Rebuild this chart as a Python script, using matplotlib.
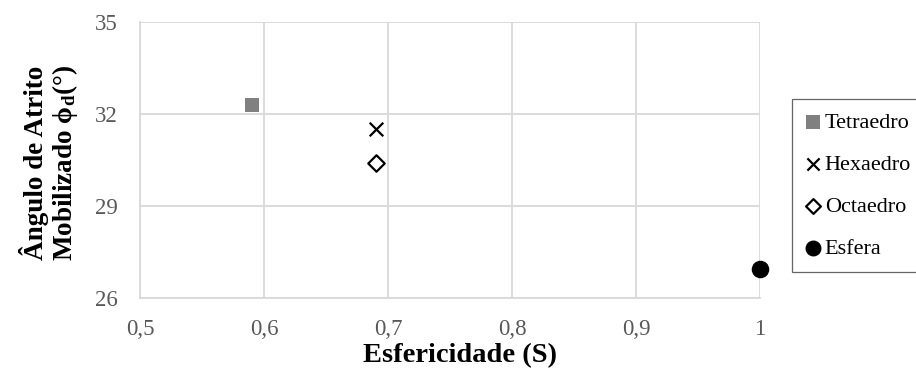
import matplotlib
matplotlib.use("Agg")
import matplotlib.pyplot as plt

plt.rcParams['font.family'] = ['Liberation Serif', 'DejaVu Serif']
plt.rcParams['mathtext.fontset'] = 'custom'
plt.rcParams['mathtext.rm'] = 'Liberation Serif'
plt.rcParams['mathtext.bf'] = 'Liberation Serif:bold'
plt.rcParams['mathtext.it'] = 'Liberation Serif:italic'

# Sphericity and mobilized friction angle per particle shape
shapes = ["Tetraedro", "Hexaedro", "Octaedro", "Esfera"]
esfericidade = [0.59, 0.69, 0.69, 1.0]
angulo = [32.3, 31.5, 30.4, 26.95]

x_ticks = [0.5, 0.6, 0.7, 0.8, 0.9, 1.0]
x_tick_labels = ["0,5", "0,6", "0,7", "0,8", "0,9", "1"]
y_ticks = [26, 29, 32, 35]

styles = {
    "Tetraedro": dict(marker="s", s=115, c="#808080", edgecolors="#808080", linewidths=0),
    "Hexaedro": dict(marker="x", s=95, c="black", linewidths=1.6),
    "Octaedro": dict(marker="D", s=70, facecolors="white", edgecolors="black", linewidths=1.6),
    "Esfera": dict(marker="o", s=135, c="black", edgecolors="black"),
}

fig = plt.figure(figsize=(9.16, 3.69), dpi=100)
ax = fig.add_axes([0.1528, 0.1924, 0.6769, 0.748])

for name, xv, yv in zip(shapes, esfericidade, angulo):
    ax.scatter([xv], [yv], label=name, zorder=3, clip_on=False, **styles[name])

ax.set_xlim(0.5, 1.0)
ax.set_ylim(26, 35)
ax.set_xticks(x_ticks)
ax.set_xticklabels(x_tick_labels)
ax.set_yticks(y_ticks)
ax.grid(True, color="#d9d9d9", linewidth=1.3)
ax.set_axisbelow(True)
for side in ["top", "right"]:
    ax.spines[side].set_visible(False)
for side in ["left", "bottom"]:
    ax.spines[side].set_color("#d9d9d9")
    ax.spines[side].set_linewidth(1.3)
ax.tick_params(axis="x", length=0, labelsize=16.5, colors="#595959", pad=15)
ax.tick_params(axis="y", length=0, labelsize=16.5, colors="#595959", pad=16)

ax.set_xlabel("Esfericidade (S)", fontsize=20.5, fontweight="bold")
ax.xaxis.set_label_coords(0.516, -0.232)
ax.xaxis.label.set_verticalalignment("baseline")
ax.set_ylabel("Ângulo de Atrito\nMobilizado $\\mathbf{\\phi_d}$(°)", fontsize=19.5,
              fontweight="bold", linespacing=1.05)
ax.yaxis.set_label_coords(-0.097, 0.49)

leg = fig.legend(loc="upper left", bbox_to_anchor=(0.8646, 0.731), fontsize=16,
                 frameon=True, fancybox=False, edgecolor="#404040",
                 handletextpad=0.2, handlelength=0.7, labelspacing=0.97,
                 borderpad=0.58, borderaxespad=0, markerscale=0.9)
leg.get_frame().set_linewidth(0.9)

fig.savefig("out.png", dpi=100)
